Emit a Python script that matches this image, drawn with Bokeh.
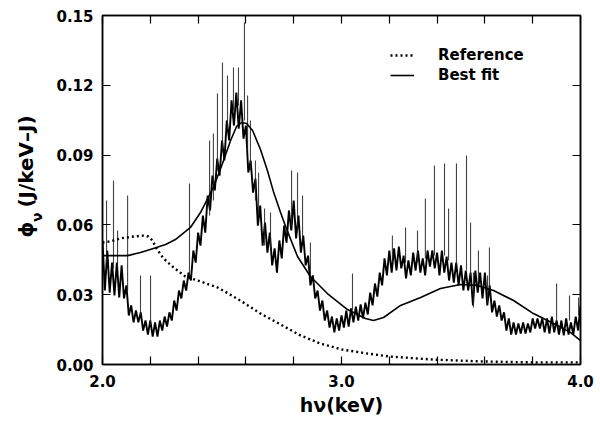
import math
from bokeh.plotting import figure
from bokeh.models import (Range1d, LinearAxis, FixedTicker, Label, Legend, LegendItem,
                          PrintfTickFormatter)
from bokeh.embed import file_html
from bokeh.resources import INLINE

# ---- measured spectrum (sampled every 0.01 keV) ----
energy_kev = [
    2.00, 2.01, 2.02, 2.03, 2.04, 2.05, 2.06, 2.07, 2.08, 2.09,
    2.10, 2.11, 2.12, 2.13, 2.14, 2.15, 2.16, 2.17, 2.18, 2.19,
    2.20, 2.21, 2.22, 2.23, 2.24, 2.25, 2.26, 2.27, 2.28, 2.29,
    2.30, 2.31, 2.32, 2.33, 2.34, 2.35, 2.36, 2.37, 2.38, 2.39,
    2.40, 2.41, 2.42, 2.43, 2.44, 2.45, 2.46, 2.47, 2.48, 2.49,
    2.50, 2.51, 2.52, 2.53, 2.54, 2.55, 2.56, 2.57, 2.58, 2.59,
    2.60, 2.61, 2.62, 2.63, 2.64, 2.65, 2.66, 2.67, 2.68, 2.69,
    2.70, 2.71, 2.72, 2.73, 2.74, 2.75, 2.76, 2.77, 2.78, 2.79,
    2.80, 2.81, 2.82, 2.83, 2.84, 2.85, 2.86, 2.87, 2.88, 2.89,
    2.90, 2.91, 2.92, 2.93, 2.94, 2.95, 2.96, 2.97, 2.98, 2.99,
    3.00, 3.01, 3.02, 3.03, 3.04, 3.05, 3.06, 3.07, 3.08, 3.09,
    3.10, 3.11, 3.12, 3.13, 3.14, 3.15, 3.16, 3.17, 3.18, 3.19,
    3.20, 3.21, 3.22, 3.23, 3.24, 3.25, 3.26, 3.27, 3.28, 3.29,
    3.30, 3.31, 3.32, 3.33, 3.34, 3.35, 3.36, 3.37, 3.38, 3.39,
    3.40, 3.41, 3.42, 3.43, 3.44, 3.45, 3.46, 3.47, 3.48, 3.49,
    3.50, 3.51, 3.52, 3.53, 3.54, 3.55, 3.56, 3.57, 3.58, 3.59,
    3.60, 3.61, 3.62, 3.63, 3.64, 3.65, 3.66, 3.67, 3.68, 3.69,
    3.70, 3.71, 3.72, 3.73, 3.74, 3.75, 3.76, 3.77, 3.78, 3.79,
    3.80, 3.81, 3.82, 3.83, 3.84, 3.85, 3.86, 3.87, 3.88, 3.89,
    3.90, 3.91, 3.92, 3.93, 3.94, 3.95, 3.96, 3.97, 3.98, 3.99,
    4.00]
measured_flux = [
    0.0533, 0.0318, 0.0490, 0.0309, 0.0438, 0.0297, 0.0438, 0.0288, 0.0426, 0.0284,
    0.0340, 0.0211, 0.0254, 0.0181, 0.0232, 0.0181, 0.0224, 0.0146, 0.0189, 0.0129,
    0.0189, 0.0120, 0.0181, 0.0120, 0.0189, 0.0146, 0.0206, 0.0163, 0.0224, 0.0189,
    0.0275, 0.0232, 0.0318, 0.0284, 0.0361, 0.0318, 0.0395, 0.0361, 0.0490, 0.0438,
    0.0567, 0.0511, 0.0640, 0.0567, 0.0726, 0.0662, 0.0812, 0.0748, 0.0885, 0.0812,
    0.0963, 0.0877, 0.1049, 0.0963, 0.1135, 0.1027, 0.1169, 0.1014, 0.1135, 0.0971,
    0.1027, 0.0825, 0.0877, 0.0739, 0.0799, 0.0597, 0.0683, 0.0511, 0.0610, 0.0481,
    0.0567, 0.0426, 0.0499, 0.0395, 0.0533, 0.0456, 0.0597, 0.0524, 0.0662, 0.0576,
    0.0705, 0.0542, 0.0640, 0.0481, 0.0554, 0.0426, 0.0468, 0.0340, 0.0383, 0.0284,
    0.0318, 0.0232, 0.0275, 0.0189, 0.0232, 0.0159, 0.0206, 0.0138, 0.0198, 0.0146,
    0.0211, 0.0159, 0.0232, 0.0163, 0.0241, 0.0181, 0.0249, 0.0189, 0.0258, 0.0198,
    0.0266, 0.0215, 0.0309, 0.0254, 0.0348, 0.0292, 0.0395, 0.0340, 0.0456, 0.0383,
    0.0490, 0.0395, 0.0499, 0.0404, 0.0507, 0.0413, 0.0468, 0.0370, 0.0447, 0.0383,
    0.0481, 0.0404, 0.0490, 0.0395, 0.0456, 0.0383, 0.0490, 0.0421, 0.0490, 0.0413,
    0.0481, 0.0383, 0.0490, 0.0395, 0.0464, 0.0361, 0.0438, 0.0352, 0.0438, 0.0340,
    0.0426, 0.0318, 0.0404, 0.0318, 0.0395, 0.0254, 0.0404, 0.0309, 0.0395, 0.0284,
    0.0395, 0.0254, 0.0340, 0.0224, 0.0275, 0.0206, 0.0254, 0.0189, 0.0224, 0.0146,
    0.0198, 0.0129, 0.0181, 0.0129, 0.0176, 0.0133, 0.0181, 0.0133, 0.0176, 0.0138,
    0.0198, 0.0155, 0.0198, 0.0155, 0.0198, 0.0138, 0.0198, 0.0133, 0.0206, 0.0138,
    0.0189, 0.0129, 0.0189, 0.0125, 0.0198, 0.0129, 0.0181, 0.0129, 0.0206, 0.0146,
    0.0254]

# ---- narrow spikes of the measured spectrum ----
spike_kev = [2.017, 2.046, 2.063, 2.105, 2.159, 2.201, 2.364, 2.448, 2.464, 2.481,
             2.502, 2.523, 2.548, 2.569, 2.594, 2.607, 2.619, 2.640, 2.653, 2.678,
             2.703, 2.791, 2.816, 2.837, 2.870, 3.046, 3.213, 3.268, 3.318, 3.351,
             3.389, 3.431, 3.448, 3.481, 3.523, 3.540, 3.552, 3.573, 3.611, 3.619,
             3.900, 3.954, 3.992]
spike_top = [0.0705, 0.0791, 0.0576, 0.0726, 0.0383, 0.0383, 0.0778, 0.0963, 0.0993, 0.1165,
             0.1298, 0.1242, 0.1276, 0.1276, 0.1470, 0.1156, 0.1049, 0.0877, 0.0825, 0.0670,
             0.0653, 0.0834, 0.0825, 0.0726, 0.0524, 0.0391, 0.0554, 0.0589, 0.0576, 0.0713,
             0.0855, 0.0864, 0.0670, 0.0864, 0.0898, 0.0610, 0.0245, 0.0490, 0.0266, 0.0503,
             0.0348, 0.0297, 0.0288]
spike_base = [0.0438, 0.0413, 0.0413, 0.0318, 0.0211, 0.0168, 0.0383, 0.0640, 0.0705, 0.0834,
              0.0920, 0.1006, 0.1092, 0.1113, 0.1049, 0.0920, 0.0834, 0.0705, 0.0640, 0.0511,
              0.0490, 0.0597, 0.0576, 0.0533, 0.0383, 0.0232, 0.0438, 0.0438, 0.0438, 0.0456,
              0.0468, 0.0468, 0.0447, 0.0426, 0.0404, 0.0383, 0.0395, 0.0361, 0.0383, 0.0318,
              0.0189, 0.0189, 0.0211]

# ---- best fit curve ----
fit_kev = [2.000, 2.054, 2.105, 2.159, 2.213, 2.264, 2.305, 2.368, 2.410, 2.464,
           2.502, 2.536, 2.561, 2.582, 2.603, 2.628, 2.661, 2.690, 2.715, 2.745,
           2.774, 2.816, 2.870, 2.941, 3.025, 3.100, 3.134, 3.176, 3.247, 3.331,
           3.414, 3.498, 3.569, 3.636, 3.720, 3.803, 3.887, 3.958, 4.000]
fit_flux = [0.0468, 0.0468, 0.0468, 0.0481, 0.0499, 0.0516, 0.0537, 0.0589, 0.0653, 0.0761,
            0.0864, 0.0963, 0.1023, 0.1040, 0.1036, 0.1006, 0.0924, 0.0834, 0.0744, 0.0653,
            0.0572, 0.0464, 0.0378, 0.0305, 0.0236, 0.0198, 0.0189, 0.0202, 0.0254, 0.0288,
            0.0327, 0.0344, 0.0340, 0.0318, 0.0275, 0.0219, 0.0176, 0.0138, 0.0103]

# ---- reference curve ----
ref_kev = [2.000, 2.033, 2.075, 2.130, 2.172, 2.192, 2.209, 2.226, 2.255, 2.297,
           2.347, 2.410, 2.481, 2.527, 2.590, 2.661, 2.745, 2.828, 2.912, 3.004,
           3.109, 3.205, 3.385, 3.594, 3.803, 4.000]
ref_flux = [0.0524, 0.0529, 0.0542, 0.0550, 0.0554, 0.0550, 0.0533, 0.0499, 0.0456, 0.0417,
            0.0378, 0.0357, 0.0331, 0.0305, 0.0266, 0.0219, 0.0172, 0.0125, 0.0090, 0.0064,
            0.0047, 0.0034, 0.0021, 0.0013, 0.0009, 0.0009]

x_major = [2.0, 3.0, 4.0]
x_minor = [2.2, 2.4, 2.6, 2.8, 3.2, 3.4, 3.6, 3.8]
y_ticks = [0.0, 0.03, 0.06, 0.09, 0.12, 0.15]

FONT = "DejaVu Sans"

p = figure(width=600, height=424, x_range=Range1d(2.0, 4.0), y_range=Range1d(0.0, 0.15),
           output_backend="svg", toolbar_location=None,
           min_border_left=102, min_border_right=20, min_border_top=15, min_border_bottom=60)
p.grid.visible = False
p.outline_line_color = "black"
p.outline_line_width = 1.5
p.background_fill_color = "white"
p.border_fill_color = "white"

def style_axis(ax, labels=True):
    ax.axis_line_color = "black"
    ax.axis_line_width = 1.5
    ax.major_tick_in = 8
    ax.major_tick_out = 0
    ax.minor_tick_in = 8
    ax.minor_tick_out = 0
    ax.major_tick_line_color = "black"
    ax.minor_tick_line_color = "black"
    ax.major_tick_line_width = 1.2
    ax.minor_tick_line_width = 1.2
    ax.major_label_text_font = FONT
    ax.major_label_text_font_style = "bold"
    if labels:
        ax.major_label_text_color = "black"
        ax.major_label_text_font_size = "15px"
    else:
        ax.major_label_text_color = None
        ax.major_label_text_font_size = "0px"
        ax.major_label_standoff = 0

xax = p.xaxis[0]
xax.ticker = FixedTicker(ticks=x_major, minor_ticks=x_minor)
xax.formatter = PrintfTickFormatter(format="%.1f")
style_axis(xax)
xax.major_label_standoff = 10
xax.axis_label = "hν(keV)"
xax.axis_label_text_font = FONT
xax.axis_label_text_font_style = "bold"
xax.axis_label_text_font_size = "19px"
xax.axis_label_standoff = 4
xax.axis_label_text_color = "black"

yax = p.yaxis[0]
yax.ticker = FixedTicker(ticks=y_ticks)
yax.formatter = PrintfTickFormatter(format="%.2f")
style_axis(yax)
yax.major_label_standoff = 9

top_ax = LinearAxis(ticker=FixedTicker(ticks=x_major, minor_ticks=x_minor))
style_axis(top_ax, labels=False)
p.add_layout(top_ax, "above")
right_ax = LinearAxis(ticker=FixedTicker(ticks=y_ticks))
style_axis(right_ax, labels=False)
p.add_layout(right_ax, "right")

# measured spectrum
p.line(energy_kev, measured_flux, line_color="black", line_width=1.9)
p.segment(x0=spike_kev, y0=spike_base, x1=spike_kev, y1=spike_top,
          line_color="#222222", line_width=1.1, line_alpha=0.85)

ref_r = p.line(ref_kev, ref_flux, line_color="black", line_width=2.4, line_dash="2 3")
fit_r = p.line(fit_kev, fit_flux, line_color="black", line_width=1.6)

legend = Legend(items=[LegendItem(label="Reference", renderers=[ref_r]),
                       LegendItem(label="Best fit", renderers=[fit_r])],
                location=(288, 279), border_line_color=None, background_fill_alpha=0,
                padding=0, spacing=0, margin=0, glyph_width=24, glyph_height=20,
                label_standoff=24, label_text_font=FONT, label_text_font_style="bold",
                label_text_font_size="15px", label_text_color="black")
p.add_layout(legend)

# y-axis title, drawn rotated with a subscript; placed in the left side panel
p.add_layout(Label(x=1.678, y=0.0546, text="ϕ\u00a0\u00a0(J/keV–J)", angle=math.pi / 2,
                   text_font=FONT, text_font_size="20px", text_font_style="bold",
                   text_align="left", text_baseline="middle", text_color="black"), "left")
p.add_layout(Label(x=1.724, y=0.0612, text="ν", angle=math.pi / 2,
                   text_font=FONT, text_font_size="14px", text_font_style="bold",
                   text_align="left", text_baseline="middle", text_color="black"), "left")

open("out.html", "w").write(file_html(p, INLINE))
